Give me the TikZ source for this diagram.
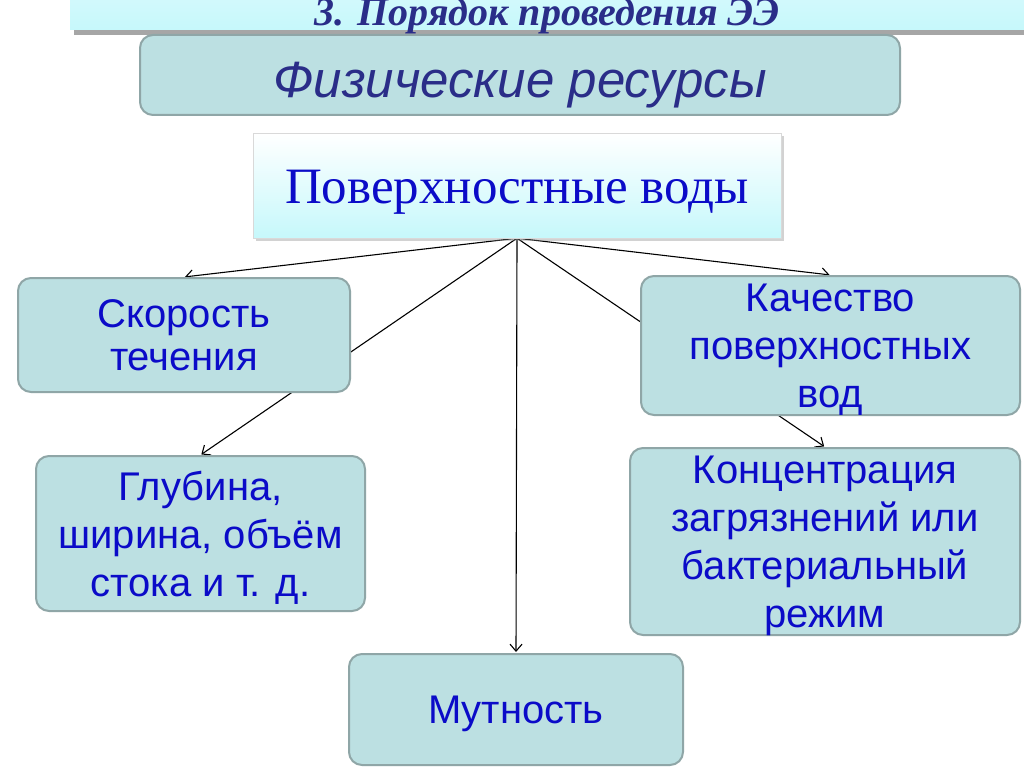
\documentclass[tikz,border=0pt]{standalone}
\usepackage{fontspec}
\setmainfont{Liberation Sans}
\newfontfamily\timesfam{Liberation Serif}
\usetikzlibrary{shadows,arrows.meta}
\definecolor{boxfill}{HTML}{BCE0E2}
\definecolor{boxline}{HTML}{8FA6A7}
\definecolor{txtblue}{HTML}{0B0BC8}
\definecolor{navy}{HTML}{2A2D88}
\definecolor{paleblue}{HTML}{C6F8FB}
\newcommand{\topstrut}[1]{\rule{0pt}{#1}}
\pgfdeclarelayer{back}
\pgfsetlayers{back,main}

\begin{document}
\begin{tikzpicture}[x=1pt,y=-1pt,
  box/.style={draw=boxline, line width=2pt, fill=boxfill, rounded corners=13pt,
    text=txtblue, align=center, inner sep=0pt, text depth=0pt,
    font=\fontsize{40}{48}\selectfont},
  link/.style={-{Straight Barb[length=7pt,width=12pt]}, line width=1.1pt, shorten >=1pt}]
\useasboundingbox (0,0) rectangle (1024,767);
\begin{pgfonlayer}{back}
\fill[white] (0,0) rectangle (1024,767);
\end{pgfonlayer}
% header bar, cut at the top
\fill[black!35] (74,-30) rectangle (1024,35);
\shade[top color=paleblue!60, bottom color=paleblue] (70,-30) rectangle (1024,30);
\node (title) at (547,16) {\timesfam\bfseries\itshape\fontsize{40}{40}\selectfont\color{navy}3. Порядок проведения ЭЭ};
% boxes
\node[box, minimum width=760pt, minimum height=80pt, text=navy,
  font=\fontsize{51}{51}\selectfont\itshape] (fiz) at (520,75) {\topstrut{46pt}Физические ресурсы};
\node[draw=black!15, top color=white, bottom color=paleblue, drop shadow={opacity=0.35},
  minimum width=528pt, minimum height=105pt, text=txtblue,
  font=\timesfam\fontsize{51}{51}\selectfont] (pov) at (517,185.5) {\topstrut{46pt}Поверхностные воды};
\node[box, minimum width=332pt, minimum height=114pt, font=\fontsize{40}{43}\selectfont] (skor) at (184,335) {Скорость\\течения};
\node[box, minimum width=379pt, minimum height=139pt] (kach) at (830.5,345.5) {Качество\\поверхностных\\вод};
\node[box, minimum width=329pt, minimum height=155pt] (glub) at (200.5,533.5) {Глубина,\\ширина, объём\\стока и т. д.};
\node[box, minimum width=390pt, minimum height=187pt] (konc) at (825,541.5) {Концентрация\\загрязнений или\\бактериальный\\режим};
\node[box, minimum width=334pt, minimum height=111pt] (mut) at (516,709.5) {Мутность};
% connectors
\begin{pgfonlayer}{back}
\draw[link] (pov.south) -- (skor.north);
\draw[link] (pov.south) -- (glub.north);
\draw[link] (pov.south) -- (mut.north);
\draw[link] (pov.south) -- (kach.north);
\draw[link] (pov.south) -- (konc.north);
\end{pgfonlayer}
\end{tikzpicture}
\end{document}
